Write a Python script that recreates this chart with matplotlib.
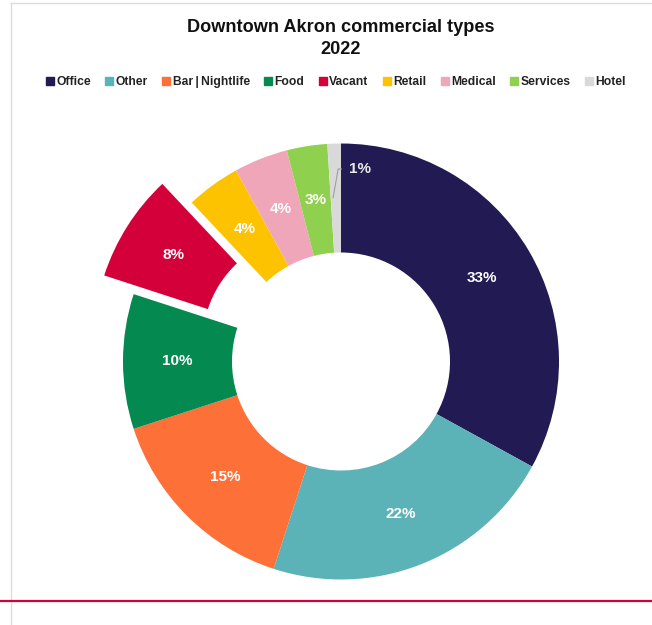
import matplotlib
matplotlib.use("Agg")
import matplotlib.pyplot as plt
from matplotlib.lines import Line2D
import numpy as np

categories = ["Office", "Other", "Bar\u2009|\u2009Nightlife", "Food", "Vacant", "Retail", "Medical", "Services", "Hotel"]
values = [33, 22, 15, 10, 8, 4, 4, 3, 1]
colors = ["#221a52", "#5bb3b8", "#fd7038", "#048a50", "#d4003a", "#fdc200", "#f0a6b9", "#8fd14f", "#d9d9d9"]
explode_cat = "Vacant"

plt.rcParams['font.family'] = ['Liberation Sans', 'DejaVu Sans']

W, H = 652, 625
fig = plt.figure(figsize=(W / 100, H / 100), dpi=100)
fig.patch.set_facecolor("white")

# pie axes: center at (341, 361.5) px from top, radius 218 px
cx, cy, R = 341, 361.5, 218
half = 260
ax = fig.add_axes([(cx - half) / W, (H - cy - half) / H, 2 * half / W, 2 * half / H])
L = half / R

explode = [0.16 if c == explode_cat else 0 for c in categories]
labels = [f"{v}%" if v > 1 else "" for v in values]
wedges, texts = ax.pie(values, colors=colors, explode=explode, startangle=90, counterclock=False,
                       radius=1.0, wedgeprops=dict(width=0.5, linewidth=0),
                       labels=labels, labeldistance=0.75,
                       textprops=dict(color="white", fontsize=11, fontweight="bold"))
for t in texts:
    t.set_ha("center")
    t.set_va("center")

ax.set_xlim(-L, L)
ax.set_ylim(-L, L)
ax.set_aspect("equal")
ax.axis("off")

# small-slice label with leader
total = sum(values)
cum = np.cumsum(values)
i = len(values) - 1
mid = 90 - 360 * (cum[i] - values[i] / 2) / total
th = np.deg2rad(mid + 1.0)
x0, y0 = 0.75 * np.cos(th), 0.75 * np.sin(th)
ax.plot([x0, -0.013, 0.005], [y0, 0.883, 0.883], color="#a0a0a0", lw=0.8, solid_capstyle="butt")
ax.text(0.035, 0.883, f"{values[i]}%", color="#e8e8e8", fontsize=11, fontweight="bold",
        ha="left", va="center")

# title
fig.text(cx / W, 1 - 27 / H, "Downtown Akron commercial types", ha="center", va="center",
         fontsize=13.1, fontweight="bold", color="#111111")
fig.text(cx / W, 1 - 50 / H, "2022", ha="center", va="center",
         fontsize=13.1, fontweight="bold", color="#111111")

# legend
handles = [Line2D([0], [0], marker="s", linestyle="none", markersize=6,
                  markerfacecolor=c, markeredgecolor=c) for c in colors]
fig.legend(handles, categories, loc="center", bbox_to_anchor=(336 / W, 1 - 82 / H), ncol=9,
           frameon=False, handlelength=0.6, handletextpad=0.25, columnspacing=1.2,
           prop=dict(size=8.7, weight="bold"), labelcolor="#222222")

# frame lines
fig.add_artist(Line2D([10.5 / W, 10.5 / W], [0, 1 - 3 / H], color="#dcdcdc", lw=1))
fig.add_artist(Line2D([10.5 / W, 1], [1 - 3 / H, 1 - 3 / H], color="#dcdcdc", lw=1))
fig.add_artist(Line2D([0, 1], [1 - 601 / H, 1 - 601 / H], color="#d4003a", lw=1.6))

fig.savefig("out.png", dpi=100)
